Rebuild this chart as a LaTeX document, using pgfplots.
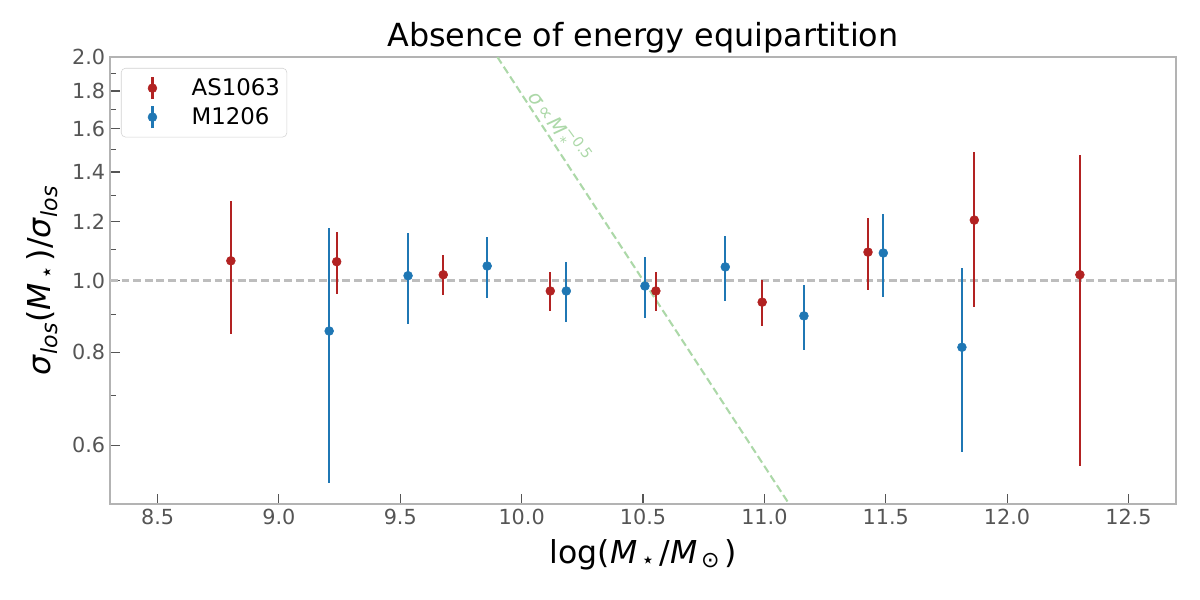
\documentclass[border=0pt]{standalone}
\usepackage{fontspec}
\setmainfont{DejaVu Sans}
\usepackage{pgfplots}
\pgfplotsset{compat=1.18}
\usepackage{pgfplotstable}

\definecolor{cred}{HTML}{B22222}
\definecolor{cblue}{HTML}{1F77B4}
\definecolor{cgreen}{HTML}{ACD8A8}
\definecolor{cdash}{HTML}{BDBDBD}
\definecolor{cspine}{HTML}{B3B3B3}
\definecolor{ctick}{HTML}{555555}

\pgfplotstableread{
x y e
8.802 1.063 0.216
9.238 1.060 0.102
9.677 1.018 0.063
10.118 0.968 0.058
10.553 0.968 0.059
10.991 0.935 0.067
11.427 1.092 0.120
11.865 1.206 0.285
12.300 1.018 0.456
}\redtable

\pgfplotstableread{
x y e
9.207 0.855 0.322
9.532 1.015 0.142
9.858 1.046 0.100
10.184 0.968 0.090
10.508 0.983 0.092
10.839 1.043 0.105
11.163 0.896 0.089
11.490 1.089 0.140
11.814 0.813 0.225
}\bluetable

\begin{document}
\begin{tikzpicture}
\useasboundingbox (-1.10in,-0.96in) rectangle (10.90in,5.04in);
\begin{axis}[
  at={(0,0)}, anchor=south west,
  scale only axis, width=10.66in, height=4.47in,
  xmin=8.304, xmax=12.696,
  ymode=log, ymin=0.5, ymax=2.0,
  xtick={8.5,9,9.5,10,10.5,11,11.5,12,12.5},
  xticklabels={8.5,9.0,9.5,10.0,10.5,11.0,11.5,12.0,12.5},
  ytick={0.6,0.8,1.0,1.2,1.4,1.6,1.8,2.0},
  yticklabels={0.6,0.8,1.0,1.2,1.4,1.6,1.8,2.0},
  minor ytick={0.5,0.7,0.9,1.1,1.3,1.5,1.7,1.9},
  xtick pos=bottom, ytick pos=left,
  tick align=inside,
  major tick length=7pt, minor tick length=4.5pt,
  tick style={color=ctick, line width=0.8pt},
  axis line style={cspine, line width=0.9pt},
  /pgf/number format/assume math mode=true,
  ticklabel style={font=\fontsize{15}{18}\selectfont, text=ctick},
  title={Absence of energy equipartition},
  title style={at={(axis description cs:0.5,1)}, anchor=base, yshift=1.4pt, font=\fontsize{23}{27}\selectfont},
  xlabel={log(\textit{M}\hspace{0.12em}\textsubscript{⋆}\hspace{0.12em}/\textit{M}\hspace{0.12em}\textsubscript{⊙}\hspace{0.12em})},
  xlabel style={at={(axis description cs:0.5,0)}, anchor=base, yshift=-0.593in, font=\fontsize{22.8}{27}\selectfont},
  ylabel={\textit{σ}\textsubscript{\textit{los}}(\textit{M}\hspace{0.12em}\textsubscript{⋆}\hspace{0.12em})/\textit{σ}\textsubscript{\textit{los}}},
  ylabel style={at={(axis description cs:-0.064,0.5)}, anchor=center, font=\fontsize{22.8}{27}\selectfont},
  legend cell align=left,
  legend style={at={(axis description cs:0.0103,0.9754)}, anchor=north west,
    draw=gray!35, rounded corners=3pt, fill=white,
    font=\fontsize{16.5}{19}\selectfont, inner xsep=3pt, inner ysep=5.5pt, row sep=3.2pt},
  clip=true,
]
\addplot[cdash, line width=1.5pt, dash pattern=on 5.6pt off 2.8pt, forget plot] coordinates {(8.304,1.0) (12.696,1.0)};
\addplot[cgreen, line width=1.5pt, dash pattern=on 5.6pt off 2.8pt, forget plot] coordinates {(9.9,2.0) (11.102,0.5)};
\node[rotate=-54, text=cgreen, font=\fontsize{14.5}{16}\selectfont] at (axis cs:10.155,1.61) {\textit{σ}\hspace{0.1em}∝\hspace{0.1em}\textit{M}\rlap{\raisebox{-0.35ex}{\fontsize{10.5}{11}\selectfont\,*}}\raisebox{0.85ex}{\fontsize{10.5}{11}\selectfont −0.5}};

\addplot[only marks, mark=*, mark size=3.2pt, color=cred, mark options={fill=cred, draw=cred},
  legend image code/.code={\path (0pt,0pt) (1.6cm,0pt); \draw[cred, line width=1.6pt] (0.68cm,-0.28cm) -- (0.68cm,0.28cm); \fill[cred] (0.68cm,0pt) circle (3.2pt);},
  error bars/.cd, y dir=both, y explicit, error mark=none, error bar style={line width=1.6pt, cred}]
  table[x=x, y=y, y error=e] {\redtable};
\addlegendentry{AS1063}

\addplot[only marks, mark=*, mark size=3.2pt, color=cblue, mark options={fill=cblue, draw=cblue},
  legend image code/.code={\path (0pt,0pt) (1.6cm,0pt); \draw[cblue, line width=1.6pt] (0.68cm,-0.28cm) -- (0.68cm,0.28cm); \fill[cblue] (0.68cm,0pt) circle (3.2pt);},
  error bars/.cd, y dir=both, y explicit, error mark=none, error bar style={line width=1.6pt, cblue}]
  table[x=x, y=y, y error=e] {\bluetable};
\addlegendentry{M1206}
\end{axis}
\end{tikzpicture}
\end{document}
